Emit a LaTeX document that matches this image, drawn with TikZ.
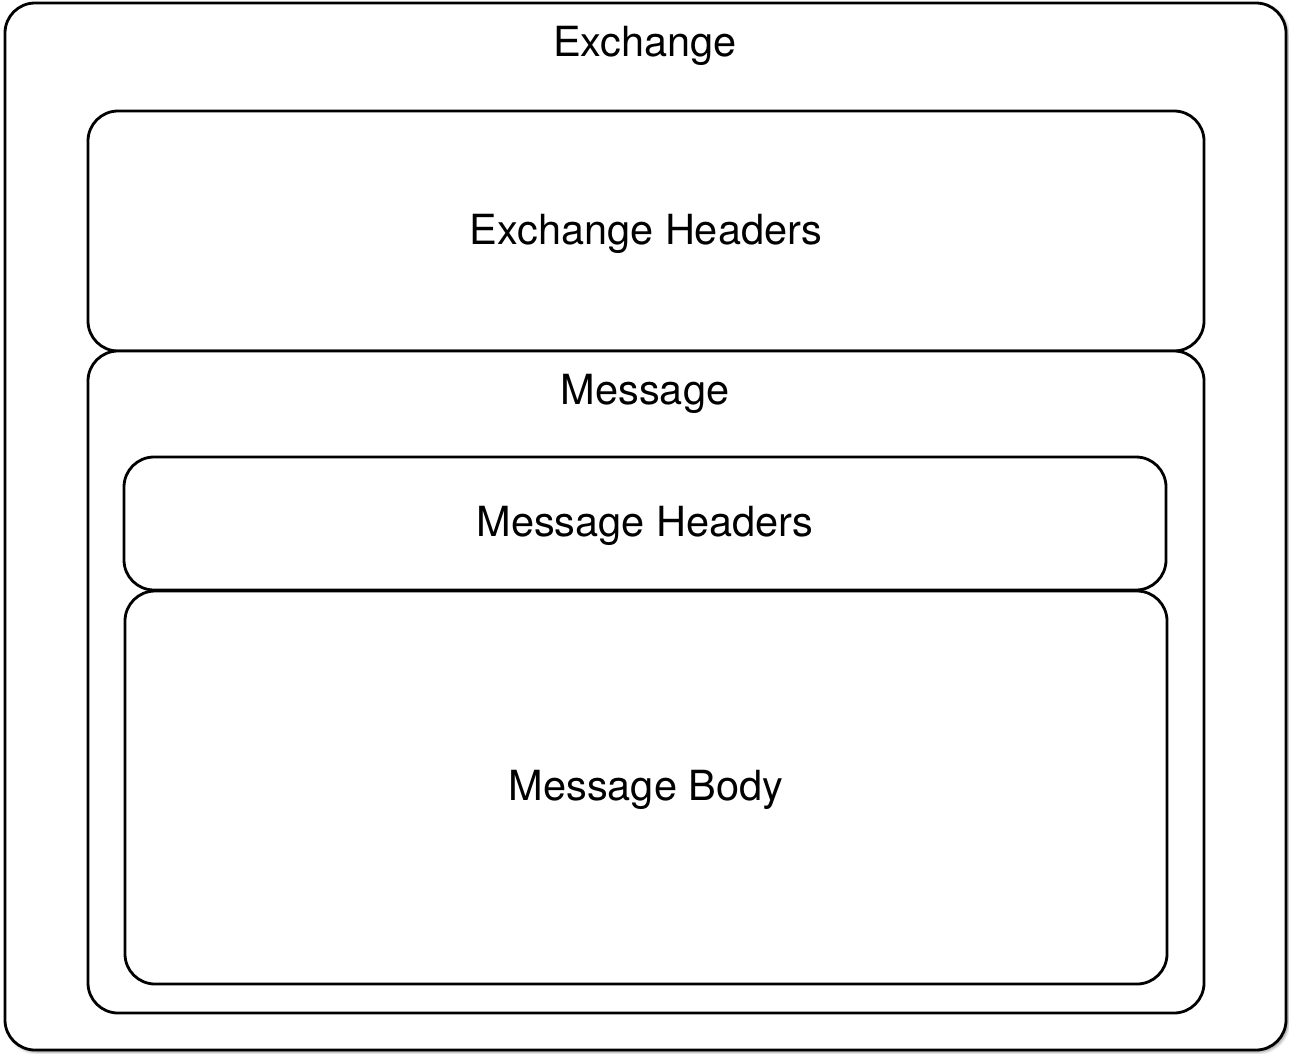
\documentclass[tikz,border=0pt]{standalone}
\usepackage{fontspec}
\setmainfont{TeX Gyre Heros}
\usetikzlibrary{shadows.blur}
\begin{document}
\begin{tikzpicture}[x=1pt,y=-1pt,
  box/.style={draw=black, line width=2.8pt, rounded corners=30pt, fill=white,
    inner sep=0pt, outer sep=0pt},
  caption/.style={font=\fontsize{41.5}{48}\selectfont, inner sep=0pt, anchor=center, yshift=-2pt}]
  \useasboundingbox (0,0) rectangle (1289,1053);
  % outer exchange frame
  \node[box, blur shadow={shadow xshift=2pt, shadow yshift=-2pt, shadow blur radius=3pt, shadow opacity=45},
        minimum width=1281pt, minimum height=1047pt] (exchange) at (645.5,526.5) {};
  \node[caption] (exchangeTitle) at (645,44) {Exchange};
  % exchange headers
  \node[box, minimum width=1116pt, minimum height=240pt] (exHeaders) at (646,231) {};
  \node[caption] at ([yshift=-1pt]exHeaders.center) {Exchange Headers};
  % message container
  \node[box, minimum width=1116pt, minimum height=662pt] (message) at (646,682) {};
  \node[caption] (messageTitle) at (645,392) {Message};
  % message headers and body
  \node[box, minimum width=1042pt, minimum height=133pt] (msgHeaders) at (645,523.5) {};
  \node[caption] at (msgHeaders.center) {Message Headers};
  \node[box, minimum width=1042pt, minimum height=393pt] (msgBody) at (646,787.5) {};
  \node[caption] at (msgBody.center) {Message Body};
\end{tikzpicture}
\end{document}
